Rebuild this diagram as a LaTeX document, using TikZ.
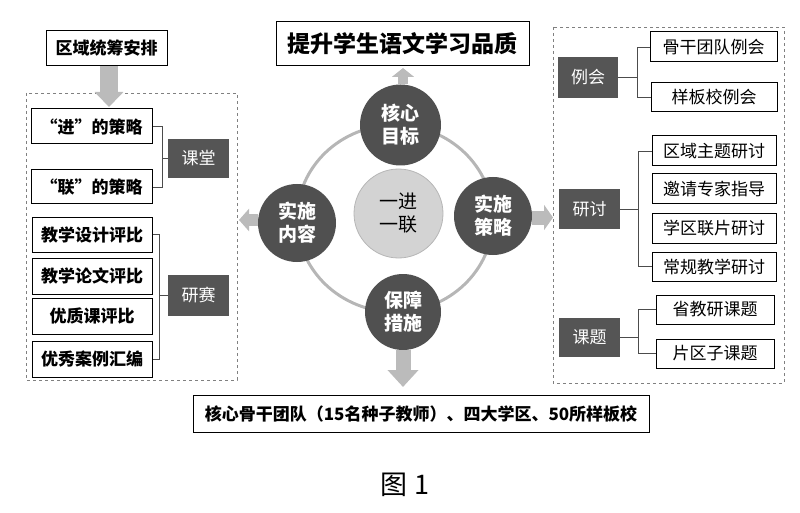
\documentclass[tikz,border=0pt]{standalone}
\usepackage{fontspec}
\setmainfont{Noto Sans CJK SC}
\usetikzlibrary{arrows.meta}

\definecolor{hubgray}{RGB}{80,80,80}
\definecolor{boxgray}{RGB}{85,85,85}
\definecolor{ringgray}{RGB}{182,182,182}
\definecolor{coregray}{RGB}{211,211,211}
\definecolor{arrowgray}{RGB}{187,187,187}

\tikzset{
  txtbox/.style={draw=black, line width=1pt, inner sep=0pt, font=\fontsize{17}{20}\selectfont},
  boldbox/.style={txtbox, font=\fontsize{17}{20}\selectfont\bfseries},
  darkbox/.style={fill=boxgray, text=white, inner sep=0pt, minimum width=61pt, font=\fontsize{17}{20}\selectfont},
  hub/.style={circle, fill=hubgray, text=white, align=center, inner sep=0pt, font=\fontsize{19}{23}\selectfont\bfseries},
  bracket/.style={draw=black!70, line width=0.9pt},
  fatarrow/.style n args={3}{draw=arrowgray, line width=#1, -{Triangle[width=#2,length=#3]}},
}

\begin{document}
\begin{tikzpicture}[x=1pt, y=-1pt]
\useasboundingbox (0,0) rectangle (800,513);

% ring and hubs
\draw [ringgray, line width=3pt] (395,218.5) ellipse [x radius=98, y radius=93.5];
\node [circle, fill=coregray, draw=ringgray, line width=0.8pt, minimum size=89pt, align=center,
       font=\fontsize{19}{23}\selectfont] (core) at (398.5,213.5) {一进\\一联};
\node [hub, minimum size=81pt] (goal) at (400.5,125) {核心\\目标};
\node [hub, minimum size=78pt] (content) at (297,223) {实施\\内容};
\node [hub, minimum size=78pt] (strategy) at (493,216) {实施\\策略};
\node [hub, minimum size=76pt] (support) at (403,312) {保障\\措施};

% top and bottom
\node [boldbox, minimum width=253pt, minimum height=44pt, font=\fontsize{23}{26}\selectfont\bfseries] (quality) at (402.5,44) {提升学生语文学习品质};
\node [boldbox, minimum width=456pt, minimum height=37pt] (team) at (421,413.5) {核心骨干团队（15名种子教师）、四大学区、50所样板校};
\node [font=\fontsize{27}{30}\selectfont] (caption) at (405,485) {图 1};

% left part
\draw [gray, dashed, line width=0.8pt] (26,93) rectangle (237,380);
\node [boldbox, minimum width=121pt, minimum height=35pt] (plan) at (106.5,48.5) {区域统筹安排};
\node [boldbox, minimum width=121pt, minimum height=35pt] (jin) at (91.5,126.5) {“进”的策略};
\node [boldbox, minimum width=121pt, minimum height=34pt] (lian) at (91.5,187) {“联”的策略};
\node [darkbox, minimum height=39pt] (ketang) at (198.5,158.5) {课堂};
\node [boldbox, minimum width=120pt, minimum height=35pt] (sheji) at (92,234.5) {教学设计评比};
\node [boldbox, minimum width=120pt, minimum height=36pt] (lunwen) at (92,276) {教学论文评比};
\node [boldbox, minimum width=120pt, minimum height=36pt] (youzhi) at (92,316) {优质课评比};
\node [boldbox, minimum width=120pt, minimum height=36pt] (anli) at (92,359) {优秀案例汇编};
\node [darkbox, minimum height=41pt] (yansai) at (198.5,295.5) {研赛};

% right part
\draw [gray, dashed, line width=0.8pt] (553,27) rectangle (784,383);
\node [txtbox, minimum width=127pt, minimum height=30pt] (guding) at (713.5,47) {骨干团队例会};
\node [txtbox, minimum width=126pt, minimum height=29pt] (yangban) at (714,97.5) {样板校例会};
\node [darkbox, minimum width=60pt, minimum height=41pt] (lihui) at (588,77.5) {例会};
\node [txtbox, minimum width=124pt, minimum height=30pt] (quyu) at (714,151) {区域主题研讨};
\node [txtbox, minimum width=124pt, minimum height=30pt] (yaoqing) at (714,189) {邀请专家指导};
\node [txtbox, minimum width=124pt, minimum height=30pt] (xuequ) at (714,228) {学区联片研讨};
\node [txtbox, minimum width=124pt, minimum height=29pt] (changgui) at (714,266.5) {常规教学研讨};
\node [darkbox, minimum height=40pt] (yantao) at (589.5,209) {研讨};
\node [txtbox, minimum width=118pt, minimum height=29pt] (sheng) at (715,309.5) {省教研课题};
\node [txtbox, minimum width=118pt, minimum height=29pt] (pianqu) at (715,353.5) {片区子课题};
\node [darkbox, minimum height=39pt] (keti) at (589.5,337.5) {课题};

% brackets
\draw [bracket] (ketang.west) -- ++(-5,0) |- (jin.east);
\draw [bracket] (ketang.west) -- ++(-5,0) |- (lian.east);
\draw [bracket] (yansai.west) -- ++(-8,0) |- (sheji.east);
\draw [bracket] (yansai.west) -- ++(-8,0) |- (anli.east);
\draw [bracket] (lihui.east) -- ++(19,0) |- (guding.west);
\draw [bracket] (lihui.east) -- ++(19,0) |- (yangban.west);
\draw [bracket] (yantao.east) -- ++(18,0) |- (quyu.west);
\draw [bracket] (yantao.east) -- ++(18,0) |- (changgui.west);
\draw [bracket] (keti.east) -- ++(18,0) |- (sheng.west);
\draw [bracket] (keti.east) -- ++(18,0) |- (pianqu.west);

% arrows
\coordinate (uptip) at (403,68);
\coordinate (downtip) at (403,387);
\coordinate (lefttip) at (239,220);
\coordinate (righttip) at (553,217.5);
\coordinate (plantip) at (109,107);
\draw [fatarrow={10pt}{22pt}{9pt}] (goal.north -| uptip) -- (uptip);
\draw [fatarrow={15pt}{30pt}{17pt}] (support.south) -- (downtip);
\draw [fatarrow={12pt}{22pt}{10pt}] (content.west |- lefttip) -- (lefttip);
\draw [fatarrow={14pt}{25pt}{9pt}] (strategy.east |- righttip) -- (righttip);
\draw [fatarrow={18pt}{28pt}{15pt}] (plan.south -| plantip) -- (plantip);

\end{tikzpicture}
\end{document}
